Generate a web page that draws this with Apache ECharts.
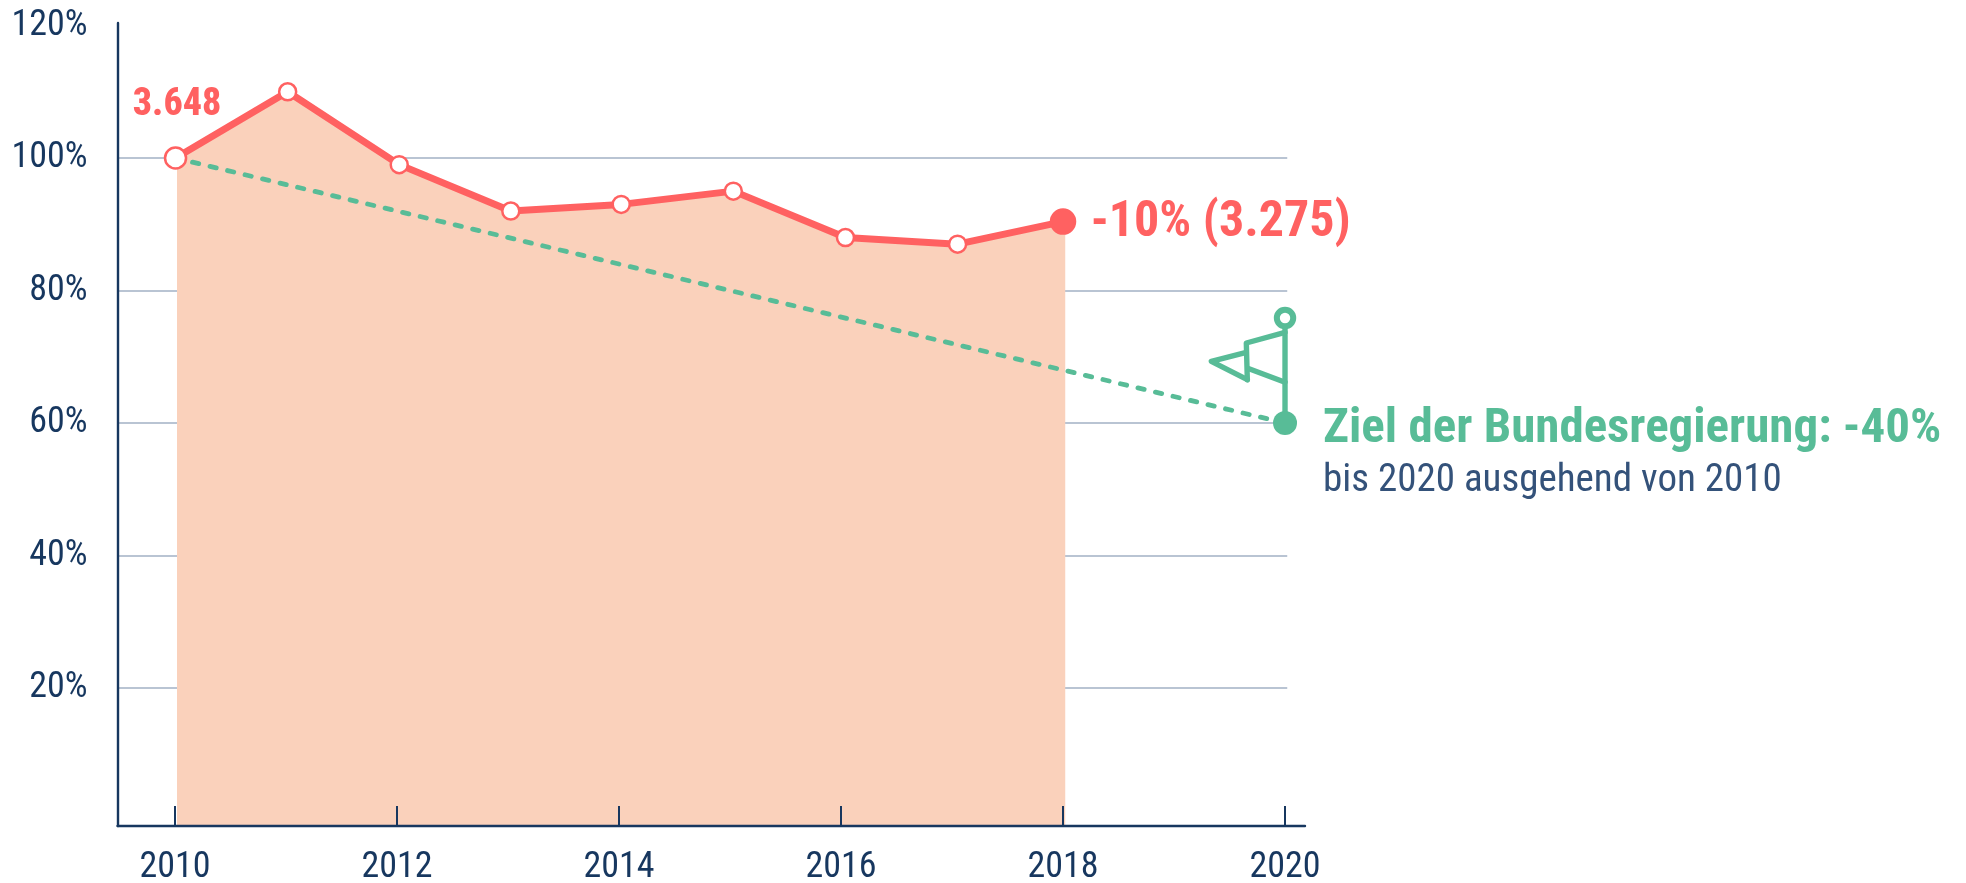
<!DOCTYPE html>
<html>
<head>
<meta charset="utf-8">
<style>
  html, body { margin: 0; background: #fff; }
  #chart { width: 1966px; height: 883px; }
</style>
<script src="https://cdn.jsdelivr.net/npm/echarts@6/dist/echarts.min.js"></script>
</head>
<body>
<div id="chart"></div>
<script>
// --- Data ---
// the points in the original sit slightly right of the year ticks, so x is read too
var pointYears = [2010.005, 2011.015, 2012.02, 2013.025, 2014.02, 2015.03, 2016.04, 2017.05, 2018];
var areaYears = [2010.018, 2011.015, 2012.02, 2013.025, 2014.02, 2015.03, 2016.04, 2017.05, 2018.02];
var actual = [100, 110, 99, 92, 93, 95, 88, 87, 90.4];
var goalYears = [2010, 2020];
var goalValues = [100, 60];
var yearTicks = [2010, 2012, 2014, 2016, 2018, 2020];
var percentTicks = [20, 40, 60, 80, 100, 120];
var gridValues = [20, 40, 60, 80, 100];
var startLabel = '3.648';
var endLabel = '-10% (3.275)';
var goalTitle = 'Ziel der Bundesregierung: -40%';
var goalNote = 'bis 2020 ausgehend von 2010';

// --- Colours ---
var NAVY = '#17375f', RED = '#ff6161', GREEN = '#58bc97', FILL = '#fad1bb', GRID = '#b9c4d3';
var FONT = '"Roboto Condensed", "Liberation Sans", sans-serif';

var myChart = echarts.init(document.getElementById('chart'));

// white dots, except the first (bigger, labelled) and the last (solid, labelled)
var actualData = pointYears.map(function (y, i) {
  var item = { value: [y, actual[i]] };
  if (i === 0) {
    item.symbolSize = 21;
    item.label = {
      show: true, formatter: startLabel, position: [-31, -60],
      color: RED, fontFamily: FONT, fontWeight: 800, fontSize: 38
    };
  }
  if (i === pointYears.length - 1) {
    item.symbolSize = 24;
    item.itemStyle = { color: RED };
    item.label = {
      show: true, formatter: endLabel, position: [41, -10],
      color: RED, fontFamily: FONT, fontWeight: 'bold', fontSize: 50
    };
  }
  return item;
});

// flag above the goal point, offsets in px from the pole's foot
function renderFlag(params, api) {
  var p = api.coord([api.value(0), api.value(1)]);
  var style = { stroke: GREEN, lineWidth: 5.4, fill: null, lineCap: 'round', lineJoin: 'round' };
  function line(pts) {
    return {
      type: 'polyline', silent: true, style: style,
      shape: { points: pts.map(function (d) { return [p[0] + d[0], p[1] + d[1]]; }) }
    };
  }
  return {
    type: 'group',
    children: [
      line([[0, 0], [0, -97]]),
      line([[0, -90.7], [-38.7, -80], [-37.7, -43.3]]),
      line([[-38.7, -70.7], [-73.7, -61.7], [-37.7, -43.3]]),
      line([[-36, -54.3], [0, -40.7]]),
      {
        type: 'circle', silent: true,
        shape: { cx: p[0], cy: p[1] - 105, r: 8.2 },
        style: { stroke: GREEN, lineWidth: 6, fill: '#fff' }
      }
    ]
  };
}

myChart.setOption({
  backgroundColor: '#fff',
  animation: false,
  grid: { left: 117.5, top: 23, width: 1187.5, height: 803, outerBoundsMode: 'none' },
  xAxis: {
    type: 'value',
    z: 10,
    min: 2009.482,
    max: 2020.18,
    axisLine: { onZero: false, lineStyle: { color: NAVY, width: 2.4 } },
    axisTick: { show: true, inside: true, length: 20, customValues: yearTicks, lineStyle: { color: NAVY, width: 2 } },
    axisLabel: {
      customValues: yearTicks, margin: 24, color: NAVY, fontFamily: FONT, fontSize: 36,
      formatter: function (v) { return String(v); }
    },
    splitLine: { show: false }
  },
  yAxis: {
    type: 'value',
    z: 10,
    min: -0.83,
    max: 120.38,
    axisLine: { show: true, lineStyle: { color: NAVY, width: 2.4 } },
    axisTick: { show: false, customValues: percentTicks },
    axisLabel: {
      customValues: percentTicks, margin: 30, color: NAVY, fontFamily: FONT, fontSize: 36,
      formatter: function (v) { return v + '%'; }
    },
    splitLine: { show: false }
  },
  series: [
    {
      // gridlines stop just past 2020, short of the axis end
      type: 'line', data: [], z: 1, silent: true,
      markLine: {
        z: 1, silent: true, symbol: 'none', animation: false, label: { show: false },
        lineStyle: { color: GRID, width: 2, type: 'solid' },
        data: gridValues.map(function (v) {
          return [{ coord: [2009.482, v] }, { coord: [2020.02, v] }];
        })
      }
    },
    {
      name: 'Fläche', type: 'line', z: 2, silent: true, symbol: 'none',
      data: areaYears.map(function (y, i) { return [y, actual[i]]; }),
      lineStyle: { width: 0 },
      areaStyle: { color: FILL, opacity: 1, origin: 'start' }
    },
    {
      name: 'Ziel', type: 'line', z: 11, silent: true, symbol: 'none',
      data: goalYears.map(function (y, i) { return [y, goalValues[i]]; }),
      lineStyle: { color: GREEN, width: 4.8, type: [6.4, 11.6], cap: 'round' }
    },
    {
      type: 'custom', z: 12, silent: true,
      data: [[goalYears[1], goalValues[1]]],
      renderItem: renderFlag
    },
    {
      name: 'Zielpunkt', type: 'scatter', z: 13, silent: true, symbolSize: 24,
      itemStyle: { color: GREEN, opacity: 1 },
      data: [[goalYears[1], goalValues[1]]],
      label: {
        show: true, position: [50, -8], align: 'left',
        formatter: '{a|' + goalTitle + '}\n{b|' + goalNote + '}',
        rich: {
          a: { color: GREEN, fontFamily: FONT, fontWeight: 'bold', fontSize: 49, lineHeight: 54 },
          b: { color: '#34527a', fontFamily: FONT, fontSize: 39, lineHeight: 49 }
        }
      }
    },
    {
      name: 'Ist', type: 'line', z: 14, silent: true,
      data: actualData,
      symbol: 'circle', symbolSize: 17, showAllSymbol: true,
      lineStyle: { color: RED, width: 7 },
      itemStyle: { color: '#fff', borderColor: RED, borderWidth: 2.5 }
    }
  ]
});
</script>
</body>
</html>
